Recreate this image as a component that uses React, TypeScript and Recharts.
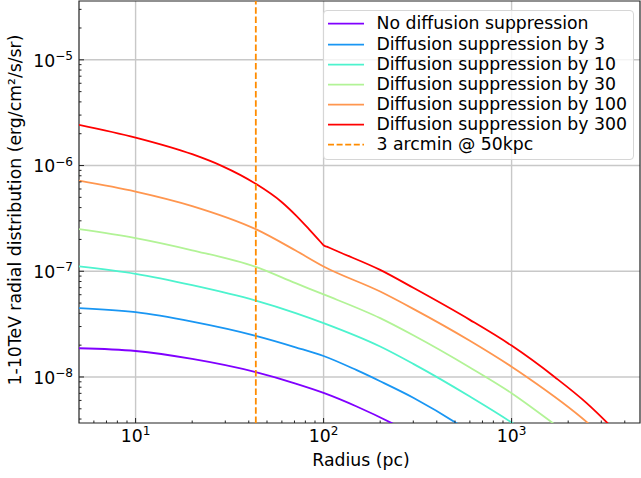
import {
	CartesianGrid,
	Label,
	Legend,
	Line,
	LineChart,
	ReferenceArea,
	ReferenceLine,
	XAxis,
	YAxis,
} from 'recharts';

// radius (pc) / flux pairs, one pair per curve
const R_NONE = [5, 10, 20, 43.6, 71, 100, 150, 229, 300];
const F_NONE = [1.87e-8, 1.76e-8, 1.48e-8, 1.11e-8, 8.66e-9, 7.07e-9, 5.26e-9, 3.68e-9, 2.85e-9];

const R_BY3 = [5, 10, 20, 43.6, 71, 100, 150, 200, 300, 508, 600];
const F_BY3 = [4.48e-8, 4.1e-8, 3.34e-8, 2.45e-8, 1.91e-8, 1.58e-8, 1.16e-8, 9.12e-9, 6.37e-9, 3.66e-9, 3.0e-9];

const R_BY10 = [5, 10, 20, 43.6, 71, 100, 200, 300, 600, 1000, 1250];
const F_BY10 = [1.11e-7, 9.44e-8, 7.38e-8, 5.27e-8, 4.02e-8, 3.23e-8, 1.94e-8, 1.33e-8, 6.53e-9, 3.71e-9, 2.83e-9];

const R_BY30 = [5, 10, 20, 43.6, 71, 100, 200, 300, 600, 1000, 1660, 2040];
const F_BY30 = [2.5e-7, 2.06e-7, 1.58e-7, 1.1e-7, 7.71e-8, 6.04e-8, 3.6e-8, 2.48e-8, 1.23e-8, 7.03e-9, 3.66e-9, 2.78e-9];

const R_BY100 = [5, 10, 20, 43.6, 71, 100, 200, 300, 600, 1000, 1210, 2550, 3130];
const F_BY100 = [7.21e-7, 5.68e-7, 4.14e-7, 2.5e-7, 1.57e-7, 1.11e-7, 6.43e-8, 4.41e-8, 2.2e-8, 1.25e-8, 9.95e-9, 3.66e-9, 2.63e-9];

const R_BY300 = [5, 10, 20, 28.7, 43.6, 60, 71, 84, 97, 100, 104, 120, 200, 300, 600, 1000, 1700, 2500, 3240, 4000];
const F_BY300 = [
	2.43e-6, 1.84e-6, 1.28e-6, 9.93e-7, 6.71e-7, 4.5e-7, 3.4e-7, 2.48e-7, 1.87e-7, 1.76e-7, 1.71e-7, 1.53e-7, 1.03e-7,
	6.97e-8, 3.47e-8, 1.98e-8, 9.95e-9, 5.69e-9, 3.66e-9, 2.48e-9,
];

const SERIES_NAMES = [
	'No diffusion suppression',
	'Diffusion suppression by 3',
	'Diffusion suppression by 10',
	'Diffusion suppression by 30',
	'Diffusion suppression by 100',
	'Diffusion suppression by 300',
];
const SERIES_COLORS = ['#8000ff', '#1996f3', '#4df3ce', '#b2f396', '#ff964f', '#ff0000'];
const SERIES_R = [R_NONE, R_BY3, R_BY10, R_BY30, R_BY100, R_BY300];
const SERIES_F = [F_NONE, F_BY3, F_BY10, F_BY30, F_BY100, F_BY300];

const MARKER_R = 43.6;
const MARKER_NAME = '3 arcmin @ 50kpc';
const MARKER_COLOR = '#ff8c00';

const X_DOMAIN = [5, 4820];
const Y_DOMAIN = [3.67e-9, 3.6e-5];
const X_MAJOR = [10, 100, 1000];
const X_MINOR = [6, 7, 8, 9, 20, 30, 40, 50, 60, 70, 80, 90, 200, 300, 400, 500, 600, 700, 800, 900, 2000, 3000, 4000];
const Y_MAJOR = [1e-8, 1e-7, 1e-6, 1e-5];
const Y_MINOR = [
	4e-9, 5e-9, 6e-9, 7e-9, 8e-9, 9e-9, 2e-8, 3e-8, 4e-8, 5e-8, 6e-8, 7e-8, 8e-8, 9e-8, 2e-7, 3e-7, 4e-7, 5e-7, 6e-7,
	7e-7, 8e-7, 9e-7, 2e-6, 3e-6, 4e-6, 5e-6, 6e-6, 7e-6, 8e-6, 9e-6, 2e-5, 3e-5,
];

const FONT = '"DejaVu Sans", sans-serif';
const FS = 17.3;
const FS_SUP = 12.1;
const INK = '#222';

const series = SERIES_NAMES.map((name, i) => ({
	name,
	color: SERIES_COLORS[i],
	data: SERIES_R[i].map((r, j) => ({ r, f: SERIES_F[i][j] })),
}));

const exponent = (v: number) => {
	const e = Math.round(Math.log10(v));
	return e < 0 ? `\u2212${-e}` : `${e}`;
};

function XTick(props: any) {
	const { x, y, payload } = props;
	const major = X_MAJOR.includes(payload.value);
	return (
		<g>
			<line x1={x} x2={x} y1={y} y2={y - (major ? 5 : 2.5)} stroke={INK} strokeWidth={1} />
			{major && (
				<text x={x} y={y + 18.7} textAnchor="middle" fontFamily={FONT} fontSize={FS} fill="#000">
					10
					<tspan dy={-6.9} fontSize={FS_SUP}>
						{exponent(payload.value)}
					</tspan>
				</text>
			)}
		</g>
	);
}

function YTick(props: any) {
	const { x, y, payload } = props;
	const major = Y_MAJOR.includes(payload.value);
	return (
		<g>
			<line x1={x} x2={x + (major ? 5 : 2.5)} y1={y} y2={y} stroke={INK} strokeWidth={1} />
			{major && (
				<text x={x - 6} y={y + 6.7} textAnchor="end" fontFamily={FONT} fontSize={FS} fill="#000">
					10
					<tspan dy={-6.5} fontSize={FS_SUP}>
						{exponent(payload.value)}
					</tspan>
				</text>
			)}
		</g>
	);
}

function LegendBox() {
	const rows = [
		...series.map((s) => ({ name: s.name, color: s.color, dashed: false })),
		{ name: MARKER_NAME, color: MARKER_COLOR, dashed: true },
	];
	return (
		<div
			style={{
				boxSizing: 'border-box',
				width: 311,
				height: 150,
				border: '1px solid #d6d6d6',
				borderRadius: 4,
				background: 'rgba(255,255,255,0.8)',
				paddingTop: 2.4,
				fontFamily: FONT,
				fontSize: FS,
				color: '#000',
			}}
		>
			{rows.map((row) => (
				<div key={row.name} style={{ display: 'flex', alignItems: 'center', height: 20.17 }}>
					<svg width={36} height={20} style={{ marginLeft: 4, marginRight: 12.5, flex: 'none' }}>
						<line
							x1={0}
							x2={36}
							y1={10.6}
							y2={10.6}
							stroke={row.color}
							strokeWidth={1.8}
							strokeDasharray={row.dashed ? '6 2.6' : undefined}
						/>
					</svg>
					<span style={{ whiteSpace: 'nowrap', lineHeight: '20.17px' }}>{row.name}</span>
				</div>
			))}
		</div>
	);
}

export default function App() {
	return (
		<div style={{ position: 'absolute', left: 0, top: 0, width: 641, height: 478, background: '#fff' }}>
			<LineChart width={641} height={478} margin={{ top: 1, right: 1, bottom: 0, left: 0 }}>
				<CartesianGrid
					stroke="#c8c8c8"
					strokeWidth={1.4}
					verticalValues={X_MAJOR}
					horizontalValues={Y_MAJOR}
				/>
				<XAxis
					dataKey="r"
					type="number"
					scale="log"
					domain={X_DOMAIN}
					allowDataOverflow
					ticks={[...X_MAJOR, ...X_MINOR]}
					interval={0}
					tick={<XTick />}
					tickSize={0}
					tickMargin={0}
					tickLine={false}
					axisLine={false}
					height={55}
				>
					<Label
						content={() => (
							<text x={361} y={465.5} textAnchor="middle" fontFamily={FONT} fontSize={FS} fill="#000">
								Radius (pc)
							</text>
						)}
					/>
				</XAxis>
				<YAxis
					dataKey="f"
					type="number"
					scale="log"
					domain={Y_DOMAIN}
					allowDataOverflow
					ticks={[...Y_MAJOR, ...Y_MINOR]}
					interval={0}
					tick={<YTick />}
					tickSize={0}
					tickMargin={0}
					tickLine={false}
					axisLine={false}
					width={79}
				>
					<Label
						content={() => (
							<text
								x={21}
								y={210}
								transform="rotate(-90 21 210)"
								textAnchor="middle"
								fontFamily={FONT}
								fontSize={FS}
								fill="#000"
							>
								1-10TeV radial distribution (erg/cm²/s/sr)
							</text>
						)}
					/>
				</YAxis>
				{series.map((s) => (
					<Line
						key={s.name}
						data={s.data}
						dataKey="f"
						name={s.name}
						type="monotone"
						stroke={s.color}
						strokeWidth={1.8}
						dot={false}
						activeDot={false}
						isAnimationActive={false}
					/>
				))}
				<ReferenceLine x={MARKER_R} stroke={MARKER_COLOR} strokeWidth={1.8} strokeDasharray="6.5 2.8" />
				<ReferenceArea
					x1={X_DOMAIN[0]}
					x2={X_DOMAIN[1]}
					y1={Y_DOMAIN[0]}
					y2={Y_DOMAIN[1]}
					fill="none"
					fillOpacity={0}
					stroke={INK}
					strokeWidth={1.2}
				/>
				<Legend
					layout="vertical"
					align="center"
					verticalAlign="middle"
					content={() => <LegendBox />}
					wrapperStyle={{ position: 'absolute', left: 323, top: 10, width: 311, height: 150 }}
				/>
			</LineChart>
		</div>
	);
}
